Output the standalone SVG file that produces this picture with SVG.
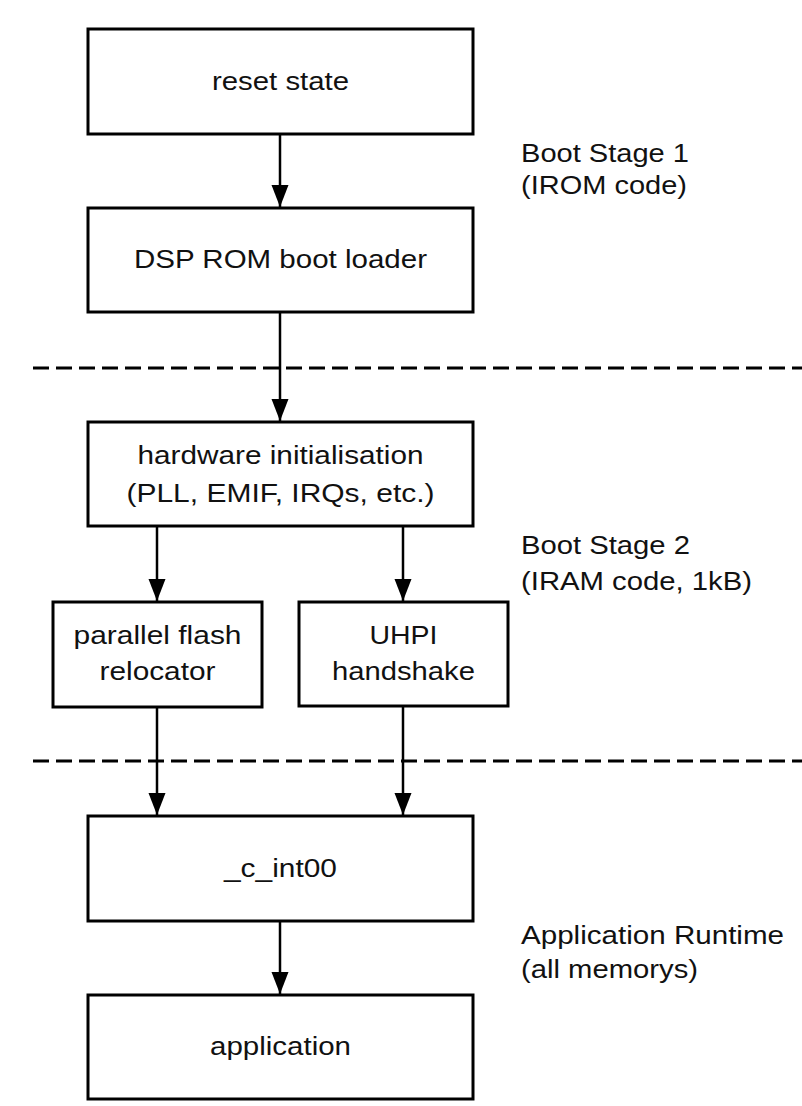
<svg xmlns="http://www.w3.org/2000/svg" width="802" height="1106" viewBox="0 0 802 1106">
  <style>
    .box { fill: #ffffff; stroke: #000000; stroke-width: 3; }
    .t { font-family: "Liberation Sans", Arial, sans-serif; font-size: 26px; fill: #111111; text-anchor: middle; }
    .lbl { font-family: "Liberation Sans", Arial, sans-serif; font-size: 26px; fill: #111111; }
    .conn { stroke: #000000; stroke-width: 2.5; fill: none; marker-end: url(#arrow); }
    .sep { stroke: #000000; stroke-width: 3; stroke-dasharray: 16 7; fill: none; }
  </style>
  <defs>
    <marker id="arrow" markerUnits="userSpaceOnUse" markerWidth="24" markerHeight="18" refX="22" refY="8.5" orient="auto">
      <path d="M0,0 L22,8.5 L0,17 z" fill="#000000"/>
    </marker>
  </defs>
  <rect width="802" height="1106" fill="#ffffff"/>

  <g id="separators">
    <line class="sep" x1="33" y1="368" x2="802" y2="368"/>
    <line class="sep" x1="33" y1="761" x2="802" y2="761"/>
  </g>

  <g id="connectors">
    <line class="conn" x1="280" y1="135" x2="280" y2="207"/>
    <line class="conn" x1="280" y1="313" x2="280" y2="421"/>
    <line class="conn" x1="157" y1="527" x2="157" y2="601"/>
    <line class="conn" x1="403" y1="527" x2="403" y2="601"/>
    <line class="conn" x1="157" y1="708" x2="157" y2="815"/>
    <line class="conn" x1="403" y1="707" x2="403" y2="815"/>
    <line class="conn" x1="280" y1="922" x2="280" y2="994"/>
  </g>

  <g id="reset-state">
    <rect class="box" x="88" y="29" width="385" height="105"/>
    <text class="t" x="280.5" y="90" textLength="137" lengthAdjust="spacingAndGlyphs">reset state</text>
  </g>
  <g id="dsp-rom-boot-loader">
    <rect class="box" x="88" y="208" width="385" height="104"/>
    <text class="t" x="280.5" y="268" textLength="293" lengthAdjust="spacingAndGlyphs">DSP ROM boot loader</text>
  </g>
  <g id="hardware-init">
    <rect class="box" x="88" y="422" width="385" height="104"/>
    <text class="t" x="280.5" y="464" textLength="286" lengthAdjust="spacingAndGlyphs">hardware initialisation</text>
    <text class="t" x="280.5" y="502" textLength="308" lengthAdjust="spacingAndGlyphs">(PLL, EMIF, IRQs, etc.)</text>
  </g>
  <g id="parallel-flash-relocator">
    <rect class="box" x="53" y="602" width="209" height="105"/>
    <text class="t" x="157.5" y="644" textLength="168" lengthAdjust="spacingAndGlyphs">parallel flash</text>
    <text class="t" x="157.5" y="680" textLength="116" lengthAdjust="spacingAndGlyphs">relocator</text>
  </g>
  <g id="uhpi-handshake">
    <rect class="box" x="299" y="602" width="209" height="104"/>
    <text class="t" x="403.5" y="644" textLength="68" lengthAdjust="spacingAndGlyphs">UHPI</text>
    <text class="t" x="403.5" y="680" textLength="143" lengthAdjust="spacingAndGlyphs">handshake</text>
  </g>
  <g id="c-int00">
    <rect class="box" x="88" y="816" width="385" height="105"/>
    <text class="t" x="280.5" y="877" textLength="113" lengthAdjust="spacingAndGlyphs">_c_int00</text>
  </g>
  <g id="application">
    <rect class="box" x="88" y="995" width="385" height="104"/>
    <text class="t" x="280.5" y="1055" textLength="141" lengthAdjust="spacingAndGlyphs">application</text>
  </g>

  <g id="stage-labels">
    <text class="lbl" x="521" y="162" textLength="168" lengthAdjust="spacingAndGlyphs">Boot Stage 1</text>
    <text class="lbl" x="521" y="194" textLength="166" lengthAdjust="spacingAndGlyphs">(IROM code)</text>
    <text class="lbl" x="521" y="554" textLength="169" lengthAdjust="spacingAndGlyphs">Boot Stage 2</text>
    <text class="lbl" x="521" y="590" textLength="231" lengthAdjust="spacingAndGlyphs">(IRAM code, 1kB)</text>
    <text class="lbl" x="521" y="944" textLength="263" lengthAdjust="spacingAndGlyphs">Application Runtime</text>
    <text class="lbl" x="521" y="978" textLength="177" lengthAdjust="spacingAndGlyphs">(all memorys)</text>
  </g>
</svg>
